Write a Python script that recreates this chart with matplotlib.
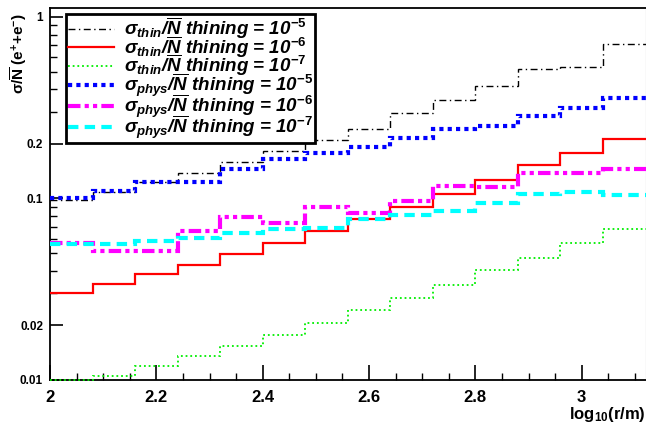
import numpy as np
import matplotlib
matplotlib.use('Agg')
import matplotlib.pyplot as plt
from matplotlib.ticker import FixedLocator, NullFormatter

plt.rcParams['font.family'] = 'Liberation Sans'
plt.rcParams['mathtext.fontset'] = 'custom'
plt.rcParams['mathtext.rm'] = 'Liberation Sans:bold'
plt.rcParams['mathtext.it'] = 'Liberation Sans:bold:italic'
plt.rcParams['mathtext.bf'] = 'Liberation Sans:bold'
plt.rcParams['mathtext.default'] = 'it'

# bin edges in log10(r/m)
edges = np.linspace(2.0, 3.12, 15)

# sigma / N-bar per bin
thin_1e5 = [0.098, 0.109, 0.123, 0.138, 0.159, 0.183, 0.210,
            0.241, 0.296, 0.349, 0.417, 0.517, 0.531, 0.710]
thin_1e6 = [0.0303, 0.0337, 0.0382, 0.0432, 0.0493, 0.0571, 0.0665,
            0.0768, 0.0902, 0.1055, 0.1256, 0.153, 0.179, 0.212]
thin_1e7 = [0.0100, 0.01056, 0.0120, 0.01356, 0.01545, 0.0177, 0.0207,
            0.0243, 0.0283, 0.0334, 0.0402, 0.0472, 0.0566, 0.0676]
phys_1e5 = [0.100, 0.110, 0.123, 0.123, 0.145, 0.165, 0.178,
            0.192, 0.215, 0.241, 0.251, 0.285, 0.315, 0.358]
phys_1e6 = [0.0571, 0.0516, 0.0512, 0.0665, 0.0788, 0.0730, 0.0902,
            0.0828, 0.0972, 0.117, 0.116, 0.138, 0.139, 0.145]
phys_1e7 = [0.0560, 0.0562, 0.0585, 0.0604, 0.0643, 0.0676, 0.0690,
            0.0768, 0.0811, 0.0857, 0.0941, 0.106, 0.109, 0.104]

labels = [r'σ$_{thin}$/$\overline{N}$ thining = 10$^{-5}$',
          r'σ$_{thin}$/$\overline{N}$ thining = 10$^{-6}$',
          r'σ$_{thin}$/$\overline{N}$ thining = 10$^{-7}$',
          r'σ$_{phys}$/$\overline{N}$ thining = 10$^{-5}$',
          r'σ$_{phys}$/$\overline{N}$ thining = 10$^{-6}$',
          r'σ$_{phys}$/$\overline{N}$ thining = 10$^{-7}$']

fig = plt.figure(figsize=(6.46, 4.29), dpi=100)
ax = fig.add_axes([50 / 646, 49 / 429, 595.5 / 646, 372 / 429])

# thinning curves
ax.stairs(thin_1e5, edges, baseline=None, color='black', lw=1.0,
          linestyle=(0, (5, 2.5, 1, 2.5)), label=labels[0], zorder=3)
ax.stairs(thin_1e6, edges, baseline=None, color='#ff0000', lw=1.6,
          label=labels[1], zorder=3)
ax.stairs(thin_1e7, edges, baseline=None, color='#00ee00', lw=1.3,
          linestyle=(0, (1, 1.6)), label=labels[2], zorder=3, clip_on=False)
# physical fluctuations
ax.stairs(phys_1e5, edges, baseline=None, color='#0000ff', lw=3.0,
          linestyle=(0, (1, 1)), label=labels[3], zorder=3)
ax.stairs(phys_1e6, edges, baseline=None, color='#ff00ff', lw=3.0,
          linestyle=(0, (3, 1, 1, 1, 1, 1)), label=labels[4], zorder=3)
ax.stairs(phys_1e7, edges, baseline=None, color='#00ffff', lw=3.0,
          linestyle=(0, (2.5, 1.5)), label=labels[5], zorder=3)

ax.set_yscale('log')
ax.set_xlim(2.0, 3.12)
ax.set_ylim(0.01, 1.12)

ax.xaxis.set_major_locator(FixedLocator([2.0, 2.2, 2.4, 2.6, 2.8, 3.0]))
ax.xaxis.set_minor_locator(FixedLocator(np.arange(2.05, 3.12, 0.05)))
ax.set_xticklabels(['2', '2.2', '2.4', '2.6', '2.8', '3'],
                   fontsize=12, fontweight='bold')

ax.yaxis.set_major_locator(FixedLocator([0.01, 0.02, 0.1, 0.2, 1.0]))
ax.yaxis.set_minor_locator(FixedLocator([0.03, 0.04, 0.05, 0.06, 0.07, 0.08, 0.09,
                                         0.3, 0.4, 0.5, 0.6, 0.7, 0.8, 0.9]))
ax.yaxis.set_minor_formatter(NullFormatter())
ax.set_yticklabels(['0.01', '0.02', '0.1', '0.2', '1'],
                   fontsize=8.5, fontweight='bold')

ax.tick_params(axis='x', which='major', direction='in', length=11, width=1.2,
               pad=7, top=False)
ax.tick_params(axis='x', which='minor', direction='in', length=5, width=1.0,
               top=False)
ax.tick_params(axis='y', which='major', direction='in', length=9, width=1.2,
               pad=5, right=False)
ax.tick_params(axis='y', which='minor', direction='in', length=5, width=1.0,
               right=False)

for s in ['left', 'bottom', 'top']:
    ax.spines[s].set_linewidth(1.3)
ax.spines['right'].set_color('#999999')

ax.set_xlabel(r'log$_{\mathbf{10}}$(r/m)', fontsize=12, fontweight='bold',
              loc='right')
ax.xaxis.set_label_coords(1.0, -0.068)
ax.set_ylabel(r'σ/$\overline{\mathbf{N}}$ (e$^{\mathbf{+}}$+e$^{\mathbf{-}}$)',
              fontsize=11, fontweight='bold', loc='top')
ax.yaxis.set_label_coords(-0.036, 0.985)

leg = ax.legend(loc='upper left', bbox_to_anchor=(0.027, 0.984),
                prop={'family': 'Liberation Sans', 'weight': 'bold',
                      'style': 'italic', 'size': 13.5},
                handlelength=2.45, handletextpad=0.55, labelspacing=-0.37,
                borderpad=0.08, borderaxespad=0.0, fancybox=False,
                framealpha=1.0, edgecolor='black')
leg.get_frame().set_linewidth(2.0)
leg.set_zorder(5)

fig.savefig('out.png', dpi=100)
